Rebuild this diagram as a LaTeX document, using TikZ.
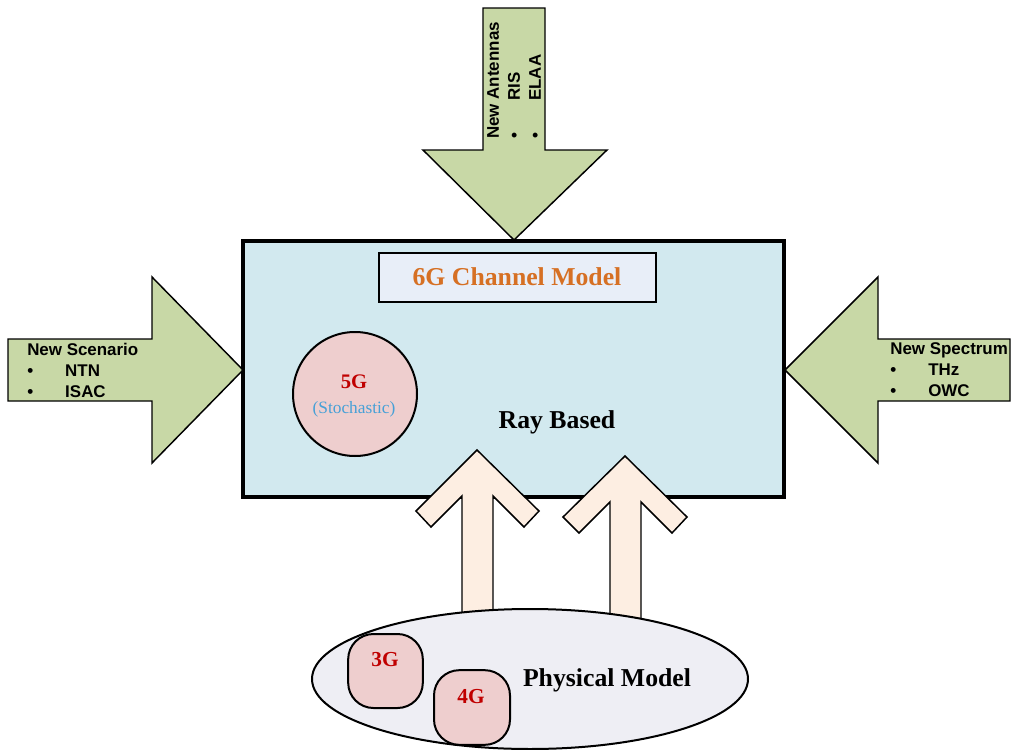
\documentclass[tikz,border=0pt]{standalone}
\usepackage{fontspec}
\setmainfont{Liberation Serif}
\newfontfamily\arialfont{Liberation Sans}
\usetikzlibrary{shapes.geometric}
\definecolor{greenfill}{RGB}{200,216,166}
\definecolor{boxblue}{RGB}{210,233,239}
\definecolor{titlefill}{RGB}{232,238,248}
\definecolor{titleorange}{RGB}{214,112,36}
\definecolor{pinkfill}{RGB}{238,206,206}
\definecolor{peachfill}{RGB}{253,238,226}
\definecolor{ellfill}{RGB}{238,238,244}
\definecolor{gred}{RGB}{192,0,0}
\definecolor{stochblue}{RGB}{70,160,215}
\newcommand{\blt}{\makebox[28.5pt][l]{\textbullet}}
\tikzset{
  greenarrow/.style={draw=black, line width=1.1pt, fill=greenfill, line join=miter},
  uparrow/.style={draw=black, line width=1.1pt, fill=peachfill, line join=miter},
  arrowtext/.style={font=\arialfont\bfseries\fontsize{12.7}{15.75}\selectfont, align=left, inner sep=0pt},
  bigserif/.style={font=\bfseries\fontsize{19.3}{22}\selectfont, inner sep=0pt},
  genbox/.style={draw=black, line width=1.5pt, fill=pinkfill, rounded corners=19pt},
}
\begin{document}
\begin{tikzpicture}[x=0.75pt,y=-0.75pt]
\useasboundingbox (0,0) rectangle (1011,750);
\clip (0,0) rectangle (1011,750);
% main box
\draw[line width=2.7pt, fill=boxblue] (243,241) rectangle (784,497);
% green arrows
\draw[greenarrow] (483,8) -- (545,8) -- (545,150) -- (607,150) -- (514,240) -- (423,150) -- (483,150) -- cycle;
\draw[greenarrow] (8,339) -- (152,339) -- (152,277) -- (243,370) -- (152,463) -- (152,401) -- (8,401) -- cycle;
\draw[greenarrow] (1010,339) -- (878,339) -- (878,277) -- (785,370) -- (878,463) -- (878,401) -- (1010,401) -- cycle;
\node[arrowtext, rotate=90, anchor=west] (antennas) at (514,139) {New Antennas\\\blt RIS\\\blt ELAA};
\node[arrowtext, anchor=west] (scenario) at (27,370) {New Scenario\\\blt NTN\\\blt ISAC};
\node[arrowtext, anchor=west] (spectrum) at (890,370) {New Spectrum\\\blt THz\\\blt OWC};
% title box
\node[draw=black, line width=1.5pt, fill=titlefill, minimum width=207.75pt, minimum height=36.75pt, inner sep=0pt] (title) at (517.5,277.5) {};
\node[bigserif, text=titleorange] (titletext) at (517,277) {6G Channel Model};
% 5G circle
\node[circle, draw=black, line width=1.5pt, fill=pinkfill, minimum size=93pt, inner sep=0pt] (fiveg) at (355,394) {};
\node[font=\bfseries\fontsize{15.5}{18}\selectfont, text=gred, inner sep=0pt] (fivegtext) at (354,382) {5G};
\node[font=\fontsize{13}{15}\selectfont, text=stochblue, inner sep=0pt] (stoch) at (354,409) {(Stochastic)};
\node[bigserif] (ray) at (557,422) {Ray Based};
% up arrows
\draw[uparrow] (462,615) -- (462,496) -- (431,527) -- (416,511) -- (477,450) -- (539,511) -- (524,527) -- (493,496) -- (493,615) -- cycle;
\draw[uparrow] (610,622) -- (610,502) -- (579,533) -- (563,517) -- (625,456) -- (687,517) -- (672,533) -- (641,502) -- (641,622) -- cycle;
% physical model ellipse
\node[ellipse, draw=black, line width=1.5pt, fill=ellfill, minimum width=327pt, minimum height=105pt, inner sep=0pt] (phys) at (530,679) {};
\node[bigserif] (physt) at (607,680) {Physical Model};
\node[genbox, minimum width=56pt, minimum height=55.5pt, inner sep=0pt] (threeg) at (385.5,671) {};
\node[font=\bfseries\fontsize{16}{18}\selectfont, text=gred, inner sep=0pt] (threegt) at (385,660) {3G};
\node[genbox, minimum width=57pt, minimum height=56pt, inner sep=0pt] (fourg) at (472,707.5) {};
\node[font=\bfseries\fontsize{16}{18}\selectfont, text=gred, inner sep=0pt] (fourgt) at (471,697) {4G};
\end{tikzpicture}
\end{document}
